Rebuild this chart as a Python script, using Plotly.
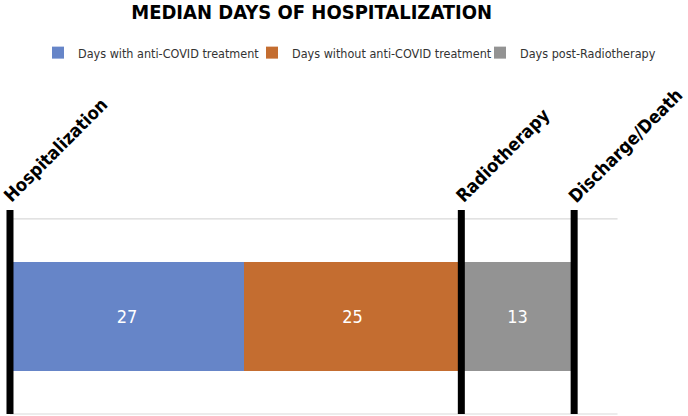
import plotly.graph_objects as go

# ---- data ----
series_names = ["Days with anti-COVID treatment", "Days without anti-COVID treatment", "Days post-Radiotherapy"]
series_days = [27, 25, 13]
series_colors = ["#6685C8", "#C46D30", "#939393"]
event_names = ["Hospitalization", "Radiotherapy", "Discharge/Death"]
event_days = [0, 52, 65]
title_text = "MEDIAN DAYS OF HOSPITALIZATION"

FONT = "DejaVu Sans Condensed, DejaVu Sans, sans-serif"
W, H = 688, 416

legend_ids = ["legend", "legend2", "legend3"]
legend_left_px = [38, 252, 480]

fig = go.Figure()
for name, val, col, lg in zip(series_names, series_days, series_colors, legend_ids):
    fig.add_trace(go.Bar(
        y=[0], x=[val], name=name, orientation="h",
        marker=dict(color=col, line=dict(width=0)),
        width=0.56, legend=lg,
        text=[str(val)], textposition="inside", insidetextanchor="middle",
        textfont=dict(color="white", size=18, family=FONT),
        hoverinfo="skip",
    ))

X_MIN = -0.69
X_GRID_END = 70.0
X_MAX = 78.0
Y_TOP = 0.546
Y_BOT = -0.505

# horizontal reference lines (plot frame top/bottom)
for yv in [0.5, -0.5]:
    fig.add_shape(type="line", xref="x", yref="y", x0=0, x1=X_GRID_END, y0=yv, y1=yv,
                  line=dict(color="#D9D9D9", width=1.2), layer="below")

# thick event lines + rotated labels
for name, d in zip(event_names, event_days):
    fig.add_shape(type="line", xref="x", yref="y", x0=d, x1=d, y0=Y_BOT + 0.005, y1=Y_TOP,
                  line=dict(color="black", width=7), layer="above")
    fig.add_annotation(x=d, y=1, xref="x", yref="paper", text="<b>" + name + "</b>",
                       textangle=-45, showarrow=False, xanchor="left", yanchor="bottom",
                       xshift=-13, yshift=1,
                       font=dict(family=FONT, size=18, color="black"))

legend_common = dict(orientation="h", xref="container", xanchor="left",
                     y=1 - 53 / H, yref="container", yanchor="middle",
                     font=dict(family=FONT, size=12.5, color="#333333"),
                     itemwidth=30, bgcolor="rgba(0,0,0,0)", borderwidth=0)

fig.update_layout(
    width=W, height=H,
    margin=dict(l=4, r=1, t=210, b=1, autoexpand=False),
    paper_bgcolor="white", plot_bgcolor="white",
    barmode="stack", bargap=0,
    title=dict(text="<b>" + title_text + "</b>", x=0.453, xref="container", xanchor="center",
               y=1 - 5 / H, yref="container", yanchor="top",
               font=dict(family=FONT, size=20, color="black")),
    legend=dict(x=legend_left_px[0] / W, **legend_common),
    legend2=dict(x=legend_left_px[1] / W, **legend_common),
    legend3=dict(x=legend_left_px[2] / W, **legend_common),
    xaxis=dict(range=[X_MIN, X_MAX], showgrid=False, zeroline=False, showticklabels=False,
               showline=False, ticks=""),
    yaxis=dict(range=[Y_BOT, Y_TOP], showgrid=False, zeroline=False, showticklabels=False,
               showline=False, ticks=""),
    showlegend=True,
)

fig.write_html("out.html", config={"displayModeBar": False},
               post_script="document.body.style.margin='0';document.body.style.overflow='hidden';")
